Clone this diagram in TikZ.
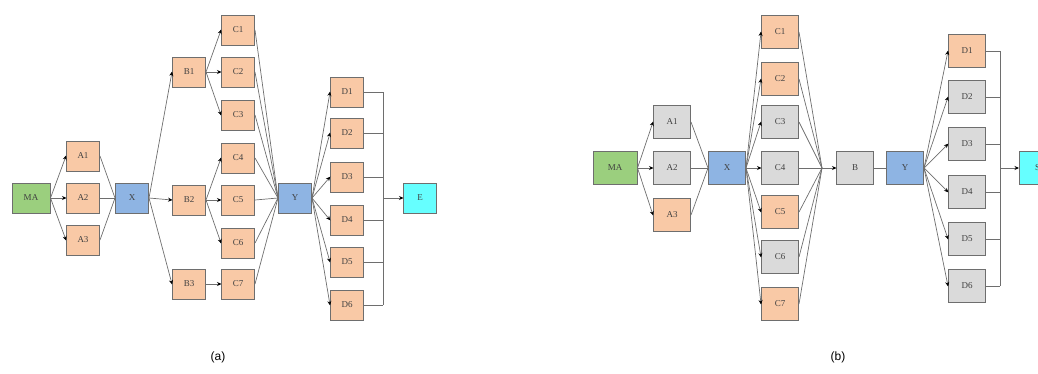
\documentclass[tikz,border=0pt]{standalone}
\usepackage{fontspec}
\setmainfont{Liberation Serif}
\newfontfamily\labelfont{Liberation Sans}
\usetikzlibrary{arrows.meta}
\definecolor{peach}{HTML}{F9C9A6}
\definecolor{lgray}{HTML}{DADADA}
\definecolor{bluebox}{HTML}{8EB4E3}
\definecolor{greenbox}{HTML}{9BCF7E}
\definecolor{cyanbox}{HTML}{66FFFF}
\definecolor{edgecol}{HTML}{6E6E6E}
\definecolor{txt}{HTML}{404040}
\tikzset{
  box/.style={draw=edgecol, line width=1pt, minimum width=33pt, minimum height=30pt, inner sep=0pt, font=\fontsize{9}{10}\selectfont, text=txt},
  bboxb/.style={box, minimum width=37pt, minimum height=33pt},
  orange/.style={fill=peach},
  grayb/.style={fill=lgray},
  blue/.style={fill=bluebox},
  green/.style={fill=greenbox},
  cyanb/.style={fill=cyanbox},
  conn/.style={draw=edgecol, line width=0.7pt},
  arr/.style={conn, -{Stealth[length=4.5pt,width=4pt,black]}, shorten >=-0.5pt},
  captxt/.style={font=\labelfont\fontsize{12}{14}\selectfont}
}
\begin{document}
\begin{tikzpicture}[x=1pt,y=-1pt]
\useasboundingbox (0,0) rectangle (1038,373);
\clip (0,0) rectangle (1038,373);
% ---------------- panel (a)
\node[box,green,minimum width=38pt] (aMA) at (31,198) {MA};
\node[box,orange] (aA1) at (83,156) {A1};
\node[box,orange] (aA2) at (83,198) {A2};
\node[box,orange] (aA3) at (83,240) {A3};
\node[box,blue] (aX) at (132,198) {X};
\node[box,orange] (aB1) at (189,72) {B1};
\node[box,orange] (aB2) at (189,200) {B2};
\node[box,orange] (aB3) at (189,284) {B3};
\node[box,orange] (aC1) at (238,30) {C1};
\node[box,orange] (aC2) at (238,72) {C2};
\node[box,orange] (aC3) at (238,115) {C3};
\node[box,orange] (aC4) at (238,158) {C4};
\node[box,orange] (aC5) at (238,200) {C5};
\node[box,orange] (aC6) at (238,243) {C6};
\node[box,orange] (aC7) at (238,284) {C7};
\node[box,blue] (aY) at (295,198) {Y};
\node[box,orange] (aD1) at (347,92) {D1};
\node[box,orange] (aD2) at (347,133) {D2};
\node[box,orange] (aD3) at (347,177) {D3};
\node[box,orange] (aD4) at (347,220) {D4};
\node[box,orange] (aD5) at (347,262) {D5};
\node[box,orange] (aD6) at (347,305) {D6};
\node[box,cyanb] (aE) at (420,198) {E};
\coordinate (aBusT) at (383,92);
\coordinate (aBusB) at (383,305);
\coordinate (aBusM) at (383,198);
\foreach \i in {1,2,3} {
  \draw[arr] (aMA.east) -- (aA\i.west);
  \draw[conn] (aA\i.east) -- (aX.west);
  \draw[arr] (aX.east) -- (aB\i.west);
}
\foreach \i in {1,2,3} \draw[arr] (aB1.east) -- (aC\i.west);
\foreach \i in {4,5,6} \draw[arr] (aB2.east) -- (aC\i.west);
\draw[arr] (aB3.east) -- (aC7.west);
\foreach \i in {1,...,7} \draw[conn] (aC\i.east) -- (aY.west);
\foreach \i in {1,...,6} {
  \draw[arr] (aY.east) -- (aD\i.west);
  \draw[conn] (aD\i.east) -- (aD\i.east -| aBusM);
}
\draw[conn] (aBusT) -- (aBusB);
\draw[arr] (aBusM) -- (aE.west);
\node[captxt] (capa) at (218,357) {(a)};
% ---------------- panel (b)
\node[bboxb,green,minimum width=44pt] (bMA) at (615,168) {MA};
\node[bboxb,grayb] (bA1) at (672,122) {A1};
\node[bboxb,grayb] (bA2) at (672,168) {A2};
\node[bboxb,orange] (bA3) at (672,215) {A3};
\node[bboxb,blue] (bX) at (727,168) {X};
\node[bboxb,orange] (bC1) at (780,32) {C1};
\node[bboxb,orange] (bC2) at (780,79) {C2};
\node[bboxb,grayb] (bC3) at (780,122) {C3};
\node[bboxb,grayb] (bC4) at (780,168) {C4};
\node[bboxb,orange] (bC5) at (780,212) {C5};
\node[bboxb,grayb] (bC6) at (780,257) {C6};
\node[bboxb,orange] (bC7) at (780,304) {C7};
\coordinate (bJ) at (822,168);
\node[bboxb,grayb] (bB) at (855,168) {B};
\node[bboxb,blue] (bY) at (905,168) {Y};
\node[bboxb,orange] (bD1) at (967,51) {D1};
\node[bboxb,grayb] (bD2) at (967,97) {D2};
\node[bboxb,grayb] (bD3) at (967,144) {D3};
\node[bboxb,grayb] (bD4) at (967,192) {D4};
\node[bboxb,grayb] (bD5) at (967,239) {D5};
\node[bboxb,grayb] (bD6) at (967,286) {D6};
\node[bboxb,cyanb] (bS) at (1037.5,168) {S};
\coordinate (bBusT) at (1000,51);
\coordinate (bBusB) at (1000,286);
\coordinate (bBusM) at (1000,168);
\foreach \i in {1,2,3} {
  \draw[arr] (bMA.east) -- (bA\i.west);
  \draw[conn] (bA\i.east) -- (bX.west);
}
\foreach \i in {1,...,7} {
  \draw[arr] (bX.east) -- (bC\i.west);
  \draw[conn] (bC\i.east) -- (bJ);
}
\draw[arr] (bJ) -- (bB.west);
\draw[conn] (bB.east) -- (bY.west);
\foreach \i in {1,...,6} {
  \draw[arr] (bY.east) -- (bD\i.west);
  \draw[conn] (bD\i.east) -- (bD\i.east -| bBusM);
}
\draw[conn] (bBusT) -- (bBusB);
\draw[arr] (bBusM) -- (bS.west);
\node[captxt] (capb) at (838,357) {(b)};
\end{tikzpicture}
\end{document}
